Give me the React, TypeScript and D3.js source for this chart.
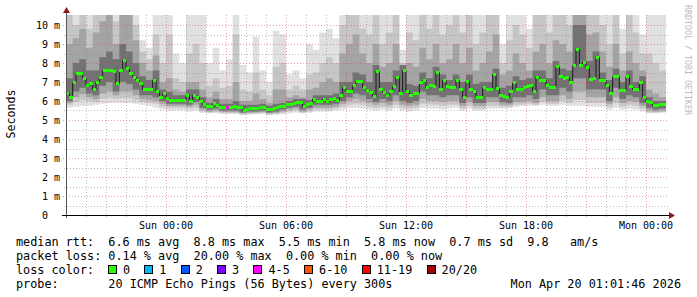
import React from 'react';
import * as d3 from 'd3';

// ---------- data ----------
const hoursSpan = 30; // Sat 19:00 -> Mon 01:00
const medianStepHours = 1 / 6; // 10 min
const smokeStepHours = 1 / 3; // 20 min

// median rtt (ms), 10-minute steps
const medianRtt = [
  6.4, 6.2, 6.95, 7.45, 7.45, 7.2, 6.8, 6.9, 6.6, 7.0,
  7.25, 7.6, 7.6, 7.6, 7.55, 6.9, 7.6, 8.15, 7.7, 7.45,
  7.25, 7.1, 6.9, 6.6, 6.6, 6.6, 7.1, 6.5, 6.2, 6.4,
  6.15, 6.05, 6.05, 6.05, 6.05, 6.05, 6.3, 6.0, 6.3, 6.2,
  5.95, 5.8, 5.7, 5.7, 5.85, 5.75, 5.68, 5.65, 5.65, 5.65,
  5.7, 5.65, 5.65, 5.5, 5.55, 5.6, 5.6, 5.6, 5.65, 5.65,
  5.55, 5.55, 5.6, 5.65, 5.7, 5.7, 5.8, 5.8, 5.85, 5.9,
  5.9, 5.7, 5.8, 5.85, 6.1, 5.95, 5.95, 6.1, 5.95, 6.1,
  6.15, 6.05, 6.3, 6.7, 6.5, 6.5, 6.8, 7.05, 7.05, 6.7,
  6.55, 6.45, 6.25, 7.55, 6.6, 6.45, 6.3, 6.5, 6.75, 7.25,
  6.4, 7.6, 6.5, 6.3, 6.4, 6.4, 6.95, 7.1, 6.7, 6.8,
  6.75, 7.5, 6.6, 7.1, 6.75, 6.7, 6.7, 7.1, 6.6, 6.2,
  7.05, 6.6, 6.5, 6.2, 6.2, 6.7, 6.6, 6.6, 7.4, 6.65,
  6.3, 6.25, 6.2, 6.5, 6.95, 6.6, 6.6, 6.7, 6.75, 6.8,
  6.5, 7.25, 7.1, 7.1, 6.8, 6.7, 6.7, 7.8, 7.3, 7.2,
  7.25, 6.95, 7.85, 8.7, 7.85, 8.05, 7.75, 7.15, 7.2, 8.3,
  7.1, 7.1, 6.8, 6.4, 7.3, 7.3, 6.55, 6.55, 7.3, 6.75,
  6.6, 6.6, 7.0, 6.2, 5.95, 5.9, 5.75, 5.75, 5.8, 5.8,
];
// packet loss events (index into medianRtt, lost pings of 20)
const lossAtIndex = [48];
const lossPings = [4];

// smoke (ms), 20-minute steps: ping distribution quantiles
const smokeMax = [
  10.6, 10.6, 10.6, 10.6, 10.6, 10.6, 10.6, 10.6, 10.6, 10.6,
  10.6, 9.2, 8.8, 10.6, 10.6, 10.6, 8.5, 8.0, 10.6, 10.6,
  10.6, 8.0, 8.8, 7.6, 8.2, 10.6, 7.9, 7.5, 9.4, 7.6,
  7.0, 9.7, 9.5, 7.4, 7.6, 7.2, 9.0, 8.7, 9.6, 9.8,
  9.3, 10.6, 10.6, 10.6, 10.6, 10.6, 10.6, 10.6, 10.6, 10.6,
  8.7, 10.6, 10.6, 10.6, 10.6, 10.6, 10.6, 10.6, 10.6, 10.6,
  10.6, 10.6, 10.6, 10.6, 10.6, 9.0, 10.6, 10.6, 10.6, 9.8,
  10.6, 10.6, 10.6, 10.6, 10.6, 10.6, 10.6, 10.6, 10.6, 10.6,
  10.6, 10.6, 10.6, 9.8, 10.6, 10.6, 9.5, 10.6, 10.6, 10.6,
];
const smokeP90 = [
  10.6, 10.0, 10.6, 9.8, 10.6, 10.6, 10.6, 10.2, 10.6, 10.6,
  10.0, 8.6, 8.2, 9.5, 8.0, 9.5, 7.2, 7.0, 8.5, 9.0,
  8.0, 6.8, 7.2, 6.7, 6.8, 9.5, 6.6, 6.5, 7.5, 6.6,
  6.3, 7.8, 8.0, 6.6, 6.8, 6.6, 7.4, 7.5, 8.0, 8.3,
  8.0, 10.0, 10.6, 10.6, 9.8, 9.5, 10.6, 9.0, 9.6, 10.6,
  8.0, 9.6, 9.2, 10.6, 9.8, 10.6, 9.5, 10.0, 10.6, 9.6,
  10.6, 9.0, 9.6, 10.6, 10.6, 8.0, 9.2, 10.0, 9.5, 8.8,
  10.6, 10.6, 9.6, 10.6, 10.6, 10.0, 10.6, 10.6, 10.6, 10.6,
  10.0, 9.0, 10.6, 8.5, 10.6, 9.6, 8.5, 8.5, 8.0, 7.6,
];
const smokeP75 = [
  9.0, 9.3, 9.8, 8.8, 9.6, 10.2, 10.6, 9.0, 10.6, 10.6,
  9.2, 8.0, 7.6, 8.4, 7.0, 7.2, 6.6, 6.5, 7.0, 7.0,
  6.6, 6.2, 6.5, 6.1, 6.1, 7.0, 6.0, 6.0, 6.4, 6.1,
  5.9, 6.6, 6.6, 6.2, 6.3, 6.2, 6.6, 6.7, 7.0, 7.2,
  7.0, 8.5, 9.0, 9.5, 8.5, 8.0, 9.0, 7.8, 8.0, 9.0,
  7.6, 8.0, 7.8, 8.8, 8.2, 9.0, 8.0, 8.2, 9.0, 8.0,
  8.8, 7.6, 8.0, 8.6, 9.5, 7.4, 7.6, 8.5, 8.0, 7.6,
  8.6, 9.0, 8.0, 9.2, 9.0, 8.6, 10.6, 10.6, 9.5, 9.6,
  8.6, 7.8, 9.0, 7.6, 8.6, 8.0, 7.6, 6.6, 6.4, 6.2,
];
const smokeP60 = [
  7.2, 8.0, 8.2, 7.6, 7.6, 8.3, 8.6, 8.2, 9.0, 8.6,
  8.0, 7.3, 7.1, 7.6, 6.6, 6.5, 6.3, 6.3, 6.6, 6.6,
  6.2, 5.9, 6.1, 5.85, 5.85, 6.0, 5.8, 5.8, 5.8, 5.85,
  5.75, 5.85, 5.9, 6.0, 6.1, 6.1, 6.05, 6.3, 6.3, 6.3,
  6.4, 7.0, 7.0, 7.5, 7.4, 7.0, 7.9, 7.0, 7.0, 7.6,
  7.9, 6.9, 6.8, 7.5, 7.2, 7.8, 7.4, 7.1, 7.4, 7.0,
  7.4, 6.9, 7.0, 7.0, 7.7, 6.7, 6.8, 7.3, 7.1, 7.2,
  7.6, 7.6, 7.2, 8.1, 7.7, 7.6, 10.0, 10.0, 8.1, 8.6,
  7.5, 7.1, 7.7, 7.0, 7.6, 7.0, 7.3, 6.2, 6.0, 6.0,
];
const smokeP40 = [
  6.0, 6.5, 6.7, 6.4, 6.3, 6.8, 7.0, 6.5, 7.0, 6.9,
  6.6, 6.3, 6.3, 6.2, 6.0, 5.85, 5.85, 5.85, 5.8, 5.95,
  5.65, 5.55, 5.6, 5.5, 5.5, 5.5, 5.4, 5.45, 5.45, 5.5,
  5.4, 5.45, 5.55, 5.65, 5.7, 5.55, 5.65, 5.8, 5.8, 5.8,
  5.85, 6.0, 6.2, 6.4, 6.3, 6.1, 5.95, 6.1, 6.0, 6.3,
  6.0, 5.9, 6.0, 6.5, 6.3, 6.3, 6.2, 6.3, 6.3, 5.9,
  6.2, 5.9, 5.9, 6.2, 6.2, 5.95, 5.9, 6.2, 6.2, 6.3,
  6.1, 6.6, 6.3, 6.3, 6.7, 6.5, 7.2, 7.2, 6.6, 6.6,
  6.6, 6.0, 6.7, 6.1, 6.3, 6.2, 5.9, 5.65, 5.55, 5.6,
];
const smokeP25 = [
  5.9, 6.2, 6.35, 6.2, 6.1, 6.4, 6.5, 6.3, 6.5, 6.5,
  6.3, 6.1, 6.05, 6.0, 5.85, 5.75, 5.75, 5.75, 5.7, 5.8,
  5.55, 5.45, 5.5, 5.42, 5.42, 5.42, 5.35, 5.38, 5.4, 5.42,
  5.35, 5.38, 5.45, 5.55, 5.6, 5.45, 5.55, 5.65, 5.65, 5.65,
  5.7, 5.85, 6.0, 6.1, 6.0, 5.9, 5.8, 5.9, 5.8, 6.0,
  5.8, 5.75, 5.8, 6.1, 6.0, 6.0, 5.95, 6.0, 6.0, 5.75,
  5.95, 5.75, 5.75, 5.95, 5.95, 5.8, 5.8, 5.95, 5.95, 6.0,
  5.9, 6.2, 6.0, 6.0, 6.3, 6.1, 6.5, 6.5, 6.2, 6.2,
  6.2, 5.85, 6.2, 5.9, 6.0, 5.95, 5.75, 5.5, 5.45, 5.5,
];
const smokeP10 = [
  5.8, 5.95, 6.05, 6.0, 5.95, 6.1, 6.15, 6.1, 6.15, 6.15,
  6.05, 5.95, 5.9, 5.85, 5.7, 5.65, 5.65, 5.65, 5.6, 5.65,
  5.45, 5.4, 5.42, 5.37, 5.37, 5.37, 5.3, 5.33, 5.35, 5.37,
  5.3, 5.33, 5.38, 5.45, 5.5, 5.4, 5.45, 5.55, 5.55, 5.55,
  5.6, 5.7, 5.8, 5.85, 5.8, 5.7, 5.65, 5.7, 5.65, 5.8,
  5.65, 5.6, 5.65, 5.85, 5.8, 5.8, 5.75, 5.8, 5.8, 5.6,
  5.75, 5.6, 5.6, 5.75, 5.75, 5.7, 5.7, 5.8, 5.8, 5.85,
  5.8, 5.95, 5.85, 5.85, 6.0, 5.9, 6.05, 6.05, 5.9, 5.9,
  5.9, 5.7, 5.9, 5.7, 5.8, 5.75, 5.6, 5.4, 5.4, 5.42,
];
const smokeMin = [
  5.65, 5.7, 5.75, 5.75, 5.8, 5.85, 5.9, 5.9, 5.9, 5.9,
  5.85, 5.8, 5.75, 5.65, 5.55, 5.5, 5.5, 5.5, 5.45, 5.5,
  5.38, 5.35, 5.35, 5.32, 5.32, 5.32, 5.25, 5.28, 5.3, 5.32,
  5.25, 5.28, 5.3, 5.35, 5.4, 5.35, 5.38, 5.45, 5.45, 5.45,
  5.5, 5.55, 5.65, 5.65, 5.6, 5.55, 5.5, 5.55, 5.5, 5.6,
  5.5, 5.45, 5.5, 5.65, 5.6, 5.6, 5.55, 5.6, 5.65, 5.5,
  5.6, 5.5, 5.5, 5.6, 5.6, 5.6, 5.6, 5.7, 5.75, 5.75,
  5.75, 5.8, 5.75, 5.75, 5.8, 5.75, 5.75, 5.75, 5.7, 5.7,
  5.7, 5.55, 5.65, 5.55, 5.6, 5.55, 5.45, 5.35, 5.35, 5.38,
];

const yTickValues = [0, 1, 2, 3, 4, 5, 6, 7, 8, 9, 10];
const yTickLabels = ['0  ', '1 m', '2 m', '3 m', '4 m', '5 m', '6 m', '7 m', '8 m', '9 m', '10 m'];
const xTickHours = [5, 11, 17, 23, 29];
const xTickLabels = ['Sun 00:00', 'Sun 06:00', 'Sun 12:00', 'Sun 18:00', 'Mon 00:00'];
const majorGridHours = [5, 8, 11, 14, 17, 20, 23, 26, 29];

const lossLabels = ['0', '1', '2', '3', '4-5', '6-10', '11-19', '20/20'];
const lossColors = ['#26ff00', '#00b8ff', '#0059ff', '#7e00ff', '#ff00ff', '#ff5500', '#ff0000', '#a00000'];
const lossMinPings = [0, 1, 2, 3, 4, 6, 11, 20];

const legendLine1 = 'median rtt:  6.6 ms avg  8.8 ms max  5.5 ms min  5.8 ms now  0.7 ms sd  9.8   am/s';
const legendLine2 = 'packet loss: 0.14 % avg  20.00 % max  0.00 % min  0.00 % now';
const legendLine3 = 'loss color:';
const legendLine4 = 'probe:       20 ICMP Echo Pings (56 Bytes) every 300s';
const timestamp = 'Mon Apr 20 01:01:46 2026';

// ---------- chart ----------
const W = 697;
const H = 297;
const L = 66, R = 666, T = 15, B = 215;
const MONO = '"DejaVu Sans Mono", "Liberation Mono", monospace';

const x = d3.scaleLinear().domain([0, hoursSpan]).range([L, R]);
const y = d3.scaleLinear().domain([0, 10]).range([B, 25]);

const smokeBands = [
  { lo: smokeMin, hi: smokeMax, color: '#e0e0e0' },
  { lo: smokeP10, hi: smokeP90, color: '#c6c6c6' },
  { lo: smokeP25, hi: smokeP75, color: '#a4a4a4' },
  { lo: smokeP40, hi: smokeP60, color: '#727272' },
];

const PRE: React.CSSProperties = { whiteSpace: 'pre' };

function lossColor(i: number) {
  const k = lossAtIndex.indexOf(i);
  if (k < 0) return lossColors[0];
  const p = lossPings[k];
  let c = lossColors[0];
  lossMinPings.forEach((m, j) => { if (p >= m) c = lossColors[j]; });
  return c;
}

export default function App() {
  const area = d3.area<{ t: number; lo: number; hi: number }>()
    .x(d => x(d.t))
    .y0(d => y(d.lo))
    .y1(d => y(d.hi))
    .curve(d3.curveStepAfter);

  const bandPaths = smokeBands.map(b => {
    const pts = b.lo.map((lo, j) => ({ t: j * smokeStepHours, lo, hi: b.hi[j] }));
    const last = pts[pts.length - 1];
    pts.push({ t: hoursSpan, lo: last.lo, hi: last.hi });
    return area(pts) || '';
  });

  const medPts = medianRtt.map((v, i) => [i * medianStepHours, v] as [number, number]);
  medPts.push([hoursSpan, medianRtt[medianRtt.length - 1]]);
  const medLine = d3.line<[number, number]>()
    .x(d => x(d[0]))
    .y(d => y(d[1]))
    .curve(d3.curveStepAfter)(medPts) || '';

  const minorH: number[] = d3.range(0.5, 10.5, 1);
  const majorH: number[] = d3.range(1, 11, 1);
  const minorV: number[] = d3.range(1, hoursSpan, 1).filter(h => !majorGridHours.includes(h));

  // legend boxes layout
  const charW = 7.12;
  let bx = 108;
  const boxes = lossLabels.map((lab, i) => {
    const item = { x: bx, label: lab, color: lossColors[i] };
    bx = bx + 15 + lab.length * charW + 2 * charW;
    return item;
  });

  return (
    <svg width={W} height={H} style={{ position: 'absolute', left: 0, top: 0, background: '#fff' }}
      xmlns="http://www.w3.org/2000/svg">
      <defs>
        <clipPath id="plotclip">
          <rect x={L} y={T} width={R - L} height={B - T} />
        </clipPath>
      </defs>
      <rect x={0} y={0} width={W} height={H} fill="#fff" />

      <g clipPath="url(#plotclip)">
        {bandPaths.map((p, i) => (
          <path key={i} d={p} fill={smokeBands[i].color} stroke="none" />
        ))}
      </g>

      {/* grid */}
      <g shapeRendering="crispEdges">
        {minorH.map(v => (
          <line key={'mh' + v} x1={L - 2} x2={R + 2} y1={Math.round(y(v)) + 0.5} y2={Math.round(y(v)) + 0.5}
            stroke="rgba(130,130,130,0.5)" strokeDasharray="1,2" />
        ))}
        {majorH.map(v => (
          <line key={'Mh' + v} x1={L - 3} x2={R + 2} y1={Math.round(y(v)) + 0.5} y2={Math.round(y(v)) + 0.5}
            stroke="rgba(215,70,70,0.5)" strokeDasharray="1,2" />
        ))}
        {minorV.map(h => (
          <line key={'mv' + h} x1={Math.round(x(h)) + 0.5} x2={Math.round(x(h)) + 0.5} y1={T} y2={B + 3}
            stroke="rgba(130,130,130,0.5)" strokeDasharray="1,2" />
        ))}
        {majorGridHours.map(h => (
          <line key={'Mv' + h} x1={Math.round(x(h)) + 0.5} x2={Math.round(x(h)) + 0.5} y1={T} y2={B + 3}
            stroke="rgba(215,70,70,0.5)" strokeDasharray="1,2" />
        ))}
      </g>

      {/* median */}
      <path d={medLine} fill="none" stroke="#1a1a1a" strokeWidth={1} />
      <g shapeRendering="crispEdges">
        {medianRtt.map((v, i) => (
          <rect key={i} x={x(i * medianStepHours)} width={x((i + 1) * medianStepHours) - x(i * medianStepHours)}
            y={y(v) - 1.5} height={3} fill={lossColor(i)} />
        ))}
      </g>

      {/* axes */}
      <line x1={L + 0.5} x2={L + 0.5} y1={B + 3} y2={10} stroke="#555" shapeRendering="crispEdges" />
      <line x1={L - 4} x2={R + 5} y1={B + 0.5} y2={B + 0.5} stroke="#000" shapeRendering="crispEdges" />
      <path d={`M${L - 3},${13} L${L + 4},${13} L${L + 0.5},${7} Z`} fill="#8b1a1a" />
      <path d={`M${R + 3},${B - 3} L${R + 3},${B + 4} L${R + 9},${B + 0.5} Z`} fill="#8b1a1a" />

      {/* y tick labels */}
      {yTickValues.map((v, i) => (
        <text key={'yl' + v} x={60} y={y(v) + 3.5} textAnchor="end" fontFamily={MONO} fontSize={10}
          fill="#000" xmlSpace="preserve" style={PRE}>{yTickLabels[i]}</text>
      ))}
      {/* x tick labels */}
      {xTickHours.map((h, i) => (
        <text key={'xl' + h} x={x(h)} y={229} textAnchor="middle" fontFamily={MONO} fontSize={10} fill="#000">
          {xTickLabels[i]}
        </text>
      ))}

      {/* axis title */}
      <text transform="translate(15,114) rotate(-90)" textAnchor="middle" fontFamily={MONO} fontSize={11.6}
        fill="#000">Seconds</text>
      <text transform="translate(685,5) rotate(90)" fontFamily={MONO} fontSize={8.3} fill="#bbbbbb">
        RRDTOOL / TOBI OETIKER
      </text>

      {/* legend */}
      <g fontFamily={MONO} fontSize={11.8} fill="#000">
        <text x={16} y={245.5} xmlSpace="preserve" style={PRE}>{legendLine1}</text>
        <text x={16} y={259.5} xmlSpace="preserve" style={PRE}>{legendLine2}</text>
        <text x={16} y={273.5} xmlSpace="preserve" style={PRE}>{legendLine3}</text>
        {boxes.map((b, i) => (
          <g key={'lb' + i}>
            <rect x={Math.round(b.x) + 0.5} y={265.5} width={8} height={8} fill={b.color} stroke="#000"
              shapeRendering="crispEdges" />
            <text x={b.x + 15} y={273.5}>{b.label}</text>
          </g>
        ))}
        <text x={16} y={287.5} xmlSpace="preserve" style={PRE}>{legendLine4}</text>
        <text x={681} y={287.5} textAnchor="end">{timestamp}</text>
      </g>
    </svg>
  );
}
